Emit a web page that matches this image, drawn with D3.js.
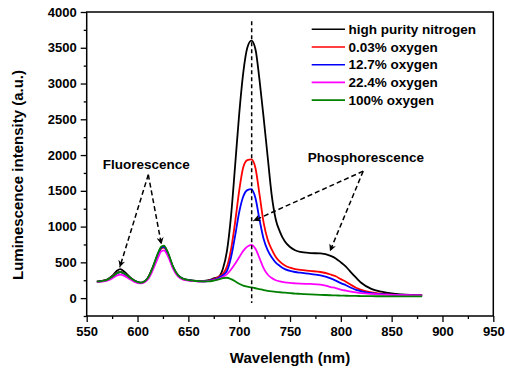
<!DOCTYPE html>
<html><head><meta charset="utf-8">
<script src="https://cdn.jsdelivr.net/npm/d3@7/dist/d3.min.js"></script>
<style>
body{margin:0;background:#fff;}
text{font-family:"Liberation Sans",Arial,sans-serif;font-weight:bold;fill:#000;}
</style></head>
<body><svg id="c" width="505" height="372"></svg>
<script>
// ---- data ----
const wavelengths = [560,565,570,575,580,583,587,592,597,603,610,615,620,623,626,630,635,640,645,650,655,660,665,670,675,680,684,688,692,696,700,704,708,712,716,720,724,728,732,736,740,745,750,755,760,770,780,790,795,800,805,810,815,820,830,840,850,860,870,880];
const nitrogen = [230,240,258,310,385,405,370,300,245,215,280,430,610,700,725,620,430,315,270,255,245,240,240,250,275,300,410,660,1150,1850,2570,3150,3500,3600,3480,3050,2530,1980,1440,1100,930,790,715,670,645,630,625,590,555,500,440,360,285,215,130,90,65,52,44,38];
const oxy003 = [230,238,255,300,355,365,340,290,240,212,275,420,600,690,705,610,425,310,265,250,240,235,235,245,265,300,340,440,680,1060,1500,1830,1930,1940,1820,1450,1060,820,680,575,510,455,425,405,395,380,365,330,305,265,230,185,145,115,80,62,50,44,40,37];
const oxy127 = [228,236,252,295,350,362,338,285,238,212,275,420,610,700,715,620,430,315,268,252,242,236,235,242,258,285,320,380,570,870,1200,1420,1510,1525,1400,1100,830,670,570,495,450,405,380,365,355,338,318,275,245,210,180,145,115,95,68,55,47,42,39,36];
const oxy224 = [225,230,243,275,318,328,310,268,228,205,258,390,560,650,668,585,410,300,258,245,238,233,233,238,250,270,295,335,400,480,570,660,720,745,690,560,420,330,280,250,233,220,212,207,203,198,190,155,140,120,105,92,80,70,58,50,45,42,39,36];
const oxy100 = [230,238,255,298,350,365,345,292,242,215,278,430,625,715,735,635,440,318,270,252,243,238,235,235,245,262,278,285,265,235,200,175,160,150,138,125,112,102,94,87,82,76,70,64,60,52,46,40,38,35,33,31,30,29,27,26,25,24,24,23];
const seriesNames = ["high purity nitrogen","0.03% oxygen","12.7% oxygen","22.4% oxygen","100% oxygen"];
const seriesValues = [nitrogen, oxy003, oxy127, oxy224, oxy100];
const seriesColors = ["#000000","#ff0000","#0000ff","#ff00ff","#008000"];
const xTicks = [550,600,650,700,750,800,850,900,950];
const xMinorTicks = [575,625,675,725,775,825,875,925];
const yTicks = [0,500,1000,1500,2000,2500,3000,3500,4000];
const yMinorTicks = [-250,250,750,1250,1750,2250,2750,3250,3750];
const peakWavelength = 712.3;
// annotations in data units
const fluoText = {label:"Fluorescence", x:608.5, y:1810};
const fluoArrows = [{x1:610.6,y1:1725,x2:582.5,y2:430},{x1:610.6,y1:1725,x2:623.5,y2:750}];
const phosText = {label:"Phosphorescence", x:824.7, y:1900};
const phosArrows = [{x1:822,y1:1775,x2:789.3,y2:655},{x1:822,y1:1775,x2:713.9,y2:1080}];

// ---- layout ----
const L=86.7,R=493.3,T=12,B=316;
const svg=d3.select("#c");
const x=d3.scaleLinear().domain([550,950]).range([L,R]);
const y=d3.scaleLinear().domain([-250,4000]).range([B,T]);

svg.append("defs").append("marker").attr("id","ah").attr("viewBox","0 0 10 10")
 .attr("refX",10).attr("refY",5).attr("markerWidth",7).attr("markerHeight",7)
 .attr("markerUnits","userSpaceOnUse").attr("orient","auto")
 .append("path").attr("d","M0,0 L10,5 L0,10 L3,5 Z").attr("fill","#000");

// lines (black first, green last)
const line=d3.line().curve(d3.curveMonotoneX);
seriesValues.forEach((vals,i)=>{
  svg.append("path").attr("fill","none").attr("stroke",seriesColors[i]).attr("stroke-width",1.8)
   .attr("stroke-linejoin","round")
   .attr("d",line(wavelengths.map((w,k)=>[x(w),y(vals[k])])));
});

// vertical dashed line
svg.append("line").attr("x1",x(peakWavelength)).attr("x2",x(peakWavelength))
 .attr("y1",y(3870)).attr("y2",y(-70)).attr("stroke","#000").attr("stroke-width",1.5).attr("stroke-dasharray","4,3");

// annotations
[...fluoArrows,...phosArrows].forEach(a=>{
  svg.append("line").attr("x1",x(a.x1)).attr("y1",y(a.y1)).attr("x2",x(a.x2)).attr("y2",y(a.y2))
   .attr("stroke","#000").attr("stroke-width",1.5).attr("stroke-dasharray","5,3").attr("marker-end","url(#ah)");
});
[fluoText,phosText].forEach(t=>{
  svg.append("text").attr("x",x(t.x)).attr("y",y(t.y)).attr("text-anchor","middle")
   .attr("font-size","13.5px").text(t.label);
});

// axes
svg.append("g").attr("transform",`translate(0,${B})`)
 .call(d3.axisBottom(x).tickValues(xMinorTicks).tickSize(3).tickFormat(""));
svg.append("g").attr("transform",`translate(0,${B})`)
 .call(d3.axisBottom(x).tickValues(xTicks).tickSize(6).tickPadding(5).tickFormat(d3.format("d")));
svg.append("g").attr("transform",`translate(${L},0)`)
 .call(d3.axisLeft(y).tickValues(yMinorTicks).tickSize(3).tickFormat(""));
svg.append("g").attr("transform",`translate(${L},0)`)
 .call(d3.axisLeft(y).tickValues(yTicks).tickSize(6).tickPadding(4).tickFormat(d3.format("d")));
svg.selectAll(".domain").remove();
svg.selectAll(".tick line").attr("stroke","#000").attr("stroke-width",1.3);
svg.selectAll(".tick text").attr("font-size","13px").attr("fill","#000")
 .style("font-family","'Liberation Sans',Arial,sans-serif").style("font-weight","bold");
// frame
svg.append("rect").attr("x",L).attr("y",T).attr("width",R-L).attr("height",B-T)
 .attr("fill","none").attr("stroke","#000").attr("stroke-width",1.5);

// axis titles
svg.append("text").attr("x",(L+R)/2).attr("y",363).attr("text-anchor","middle").attr("font-size","15px").text("Wavelength (nm)");
svg.append("text").attr("transform","translate(23,175) rotate(-90)").attr("text-anchor","middle").attr("font-size","15px").text("Luminescence intensity (a.u.)");

// legend
const lg=svg.append("g");
seriesNames.forEach((n,i)=>{
  const yy=29.3+i*17.7;
  lg.append("line").attr("x1",311.7).attr("x2",345).attr("y1",yy).attr("y2",yy).attr("stroke",seriesColors[i]).attr("stroke-width",1.6);
  lg.append("text").attr("x",348.5).attr("y",yy).attr("dy","0.35em").attr("font-size","13.5px").text(n);
});
</script></body></html>
